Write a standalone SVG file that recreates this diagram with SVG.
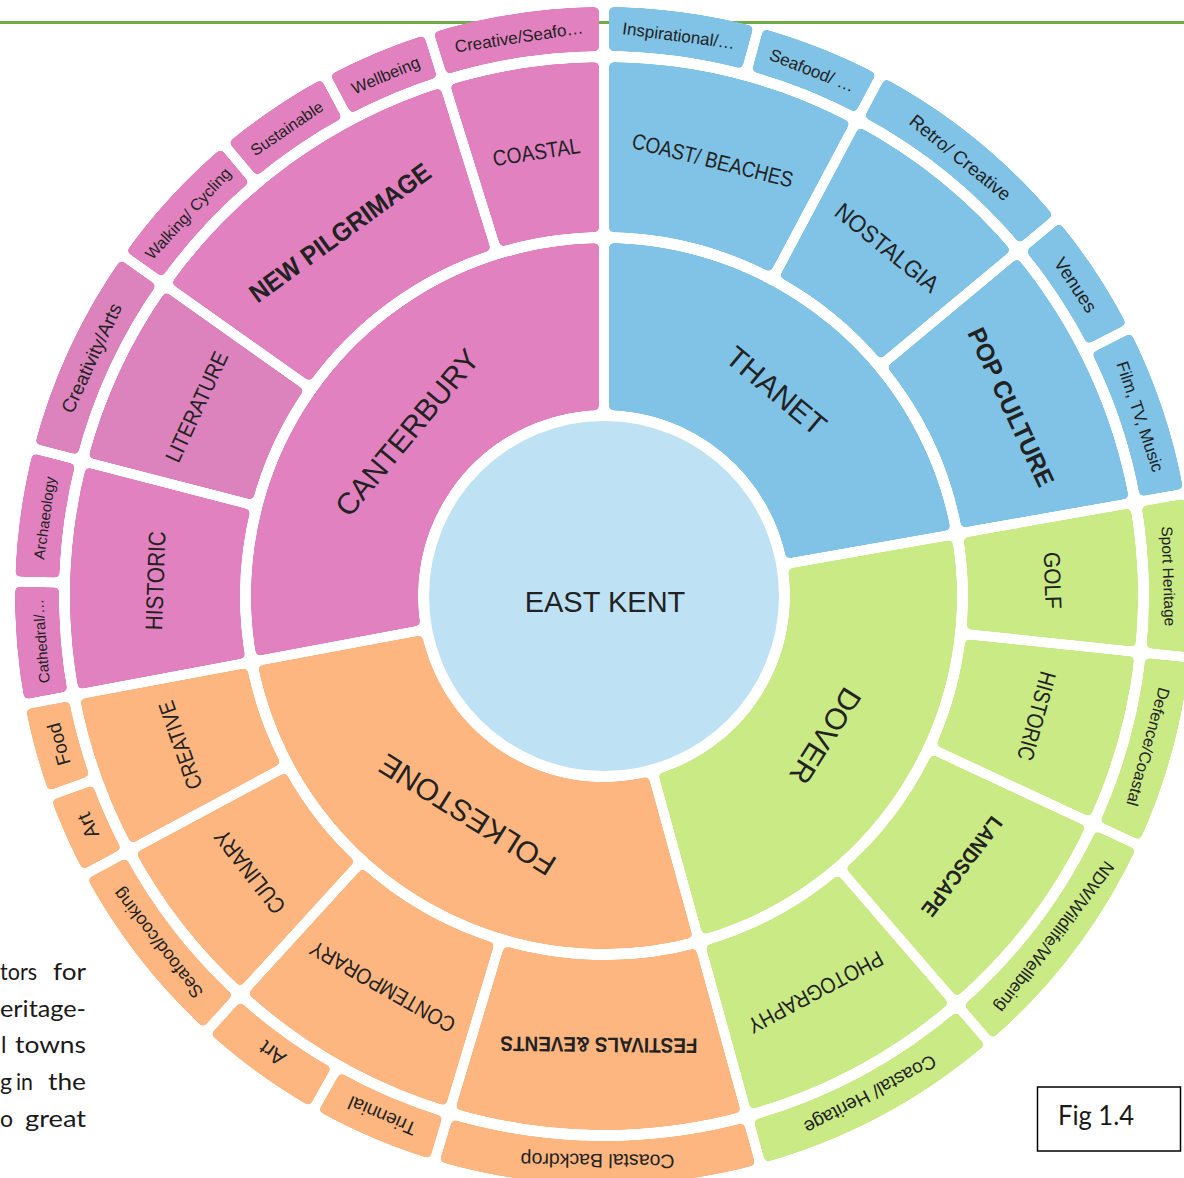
<svg xmlns="http://www.w3.org/2000/svg" width="1184" height="1178" viewBox="0 0 1184 1178">
<style>
.seg{fill:none}
.r1{stroke-width:167}
.r2{stroke-width:170}
.r3{stroke-width:44}
.pk{stroke:#E181BF}
.pl{stroke:#DC82BC}
.bl{stroke:#80C3E6}
.gn{stroke:#C9EA85}
.or{stroke:#FDB680}
.lb{font-family:'Liberation Sans',Arial,sans-serif;fill:#222;text-anchor:middle;dominant-baseline:central}
.l1{font-size:30px}
.l2{font-size:22px}
.l3{font-size:17px}
.b{font-weight:bold}
.doc{font-family:Lato,'Open Sans',sans-serif;font-size:23px;fill:#1a1a1a}
</style>
<defs>
<filter id="rnd" filterUnits="userSpaceOnUse" x="-40" y="-40" width="1264" height="1258" color-interpolation-filters="sRGB">
<feGaussianBlur stdDeviation="2.5"/>
<feComponentTransfer><feFuncA type="linear" slope="12" intercept="-5.5"/></feComponentTransfer>
</filter>
<mask id="gap" maskUnits="userSpaceOnUse" x="-40" y="-40" width="1264" height="1258">
<rect x="-40" y="-40" width="1264" height="1258" fill="#fff"/>
<g stroke="#000" stroke-width="10">
<line x1="604" y1="416" x2="604" y2="-4" transform="rotate(0 604 596)"/>
<line x1="604" y1="416" x2="604" y2="-4" transform="rotate(80 604 596)"/>
<line x1="604" y1="416" x2="604" y2="-4" transform="rotate(164.6 604 596)"/>
<line x1="604" y1="416" x2="604" y2="-4" transform="rotate(259.4 604 596)"/>
<line x1="604" y1="238" x2="604" y2="-4" transform="rotate(28 604 596)"/>
<line x1="604" y1="238" x2="604" y2="-4" transform="rotate(50.2 604 596)"/>
<line x1="604" y1="238" x2="604" y2="-4" transform="rotate(96 604 596)"/>
<line x1="604" y1="238" x2="604" y2="-4" transform="rotate(115 604 596)"/>
<line x1="604" y1="238" x2="604" y2="-4" transform="rotate(139.2 604 596)"/>
<line x1="604" y1="238" x2="604" y2="-4" transform="rotate(196.7 604 596)"/>
<line x1="604" y1="238" x2="604" y2="-4" transform="rotate(222.4 604 596)"/>
<line x1="604" y1="238" x2="604" y2="-4" transform="rotate(241.8 604 596)"/>
<line x1="604" y1="238" x2="604" y2="-4" transform="rotate(284.5 604 596)"/>
<line x1="604" y1="238" x2="604" y2="-4" transform="rotate(305.3 604 596)"/>
<line x1="604" y1="238" x2="604" y2="-4" transform="rotate(342.7 604 596)"/>
<line x1="604" y1="56" x2="604" y2="-4" transform="rotate(15.2 604 596)"/>
<line x1="604" y1="56" x2="604" y2="-4" transform="rotate(63 604 596)"/>
<line x1="604" y1="56" x2="604" y2="-4" transform="rotate(209.5 604 596)"/>
<line x1="604" y1="56" x2="604" y2="-4" transform="rotate(250.2 604 596)"/>
<line x1="604" y1="56" x2="604" y2="-4" transform="rotate(271.4 604 596)"/>
<line x1="604" y1="56" x2="604" y2="-4" transform="rotate(319.9 604 596)"/>
<line x1="604" y1="56" x2="604" y2="-4" transform="rotate(331.8 604 596)"/>
</g>
</mask>
</defs>

<rect width="1184" height="1178" fill="#fff"/>
<line x1="0" y1="22.5" x2="1184" y2="22.5" stroke="#70AD47" stroke-width="3"/>

<g id="document-text" class="doc">
<text x="0" y="980" textLength="37" lengthAdjust="spacingAndGlyphs">tors</text>
<text x="53" y="980" textLength="33" lengthAdjust="spacingAndGlyphs">for</text>
<text x="0" y="1017" textLength="86" lengthAdjust="spacingAndGlyphs">eritage-</text>
<text x="1" y="1053">l</text>
<text x="15" y="1053" textLength="71" lengthAdjust="spacingAndGlyphs">towns</text>
<text x="0" y="1090">g</text>
<text x="16" y="1090" textLength="17" lengthAdjust="spacingAndGlyphs">in</text>
<text x="48" y="1090" textLength="38" lengthAdjust="spacingAndGlyphs">the</text>
<text x="0" y="1127">o</text>
<text x="25" y="1127" textLength="61" lengthAdjust="spacingAndGlyphs">great</text>
</g>

<g id="fig-label">
<rect x="1037.5" y="1087" width="143" height="64" fill="#fff" stroke="#000" stroke-width="1.5"/>
<text x="1058" y="1125" class="doc" style="font-size:26px" textLength="76" lengthAdjust="spacingAndGlyphs">Fig 1.4</text>
</g>

<g id="east-kent">
<circle cx="604" cy="596" r="175" fill="#BEE1F3"/>
<text class="lb" x="605" y="602" style="font-size:29px">EAST KENT</text>
</g>

<!-- Ring 1 -->
<g id="thanet"><g filter="url(#rnd)"><g mask="url(#gap)"><circle class="seg r1 bl" cx="604" cy="596" r="269.5" pathLength="360" stroke-dasharray="80 360" transform="rotate(-90 604 596)"/></g></g><text class="lb l1" transform="translate(604 596) rotate(40) translate(0 -268)">THANET</text></g>
<g id="dover"><g filter="url(#rnd)"><g mask="url(#gap)"><circle class="seg r1 gn" cx="604" cy="596" r="269.5" pathLength="360" stroke-dasharray="84.6 360" transform="rotate(-10 604 596)"/></g></g><text class="lb l1" transform="translate(604 596) rotate(122.3) translate(0 -262)">DOVER</text></g>
<g id="folkestone"><g filter="url(#rnd)"><g mask="url(#gap)"><circle class="seg r1 or" cx="604" cy="596" r="269.5" pathLength="360" stroke-dasharray="94.8 360" transform="rotate(74.6 604 596)"/></g></g><text class="lb l1" transform="translate(604 596) rotate(212) translate(0 -258)">FOLKESTONE</text></g>
<g id="canterbury"><g filter="url(#rnd)"><g mask="url(#gap)"><circle class="seg r1 pk" cx="604" cy="596" r="269.5" pathLength="360" stroke-dasharray="100.6 360" transform="rotate(169.4 604 596)"/></g></g><text class="lb l1" transform="translate(604 596) rotate(309.7) translate(0 -256)">CANTERBURY</text></g>

<!-- Ring 2 -->
<g id="thanet-coast-beaches"><g filter="url(#rnd)"><g mask="url(#gap)"><circle class="seg r2 bl" cx="604" cy="596" r="449" pathLength="360" stroke-dasharray="28 360" transform="rotate(-90 604 596)"/></g></g><text class="lb l2" textLength="165" lengthAdjust="spacingAndGlyphs" transform="translate(604 596) rotate(14) translate(0 -449)">COAST/ BEACHES</text></g>
<g id="thanet-nostalgia"><g filter="url(#rnd)"><g mask="url(#gap)"><circle class="seg r2 bl" cx="604" cy="596" r="449" pathLength="360" stroke-dasharray="22.2 360" transform="rotate(-62 604 596)"/></g></g><text class="lb l2" style="font-size:24px" textLength="126" lengthAdjust="spacingAndGlyphs" transform="translate(604 596) rotate(39.1) translate(0 -449)">NOSTALGIA</text></g>
<g id="thanet-pop-culture"><g filter="url(#rnd)"><g mask="url(#gap)"><circle class="seg r2 bl" cx="604" cy="596" r="449" pathLength="360" stroke-dasharray="29.8 360" transform="rotate(-39.8 604 596)"/></g></g><text class="lb l2 b" style="font-size:25px" textLength="172" lengthAdjust="spacingAndGlyphs" transform="translate(604 596) rotate(65.1) translate(0 -449)">POP CULTURE</text></g>
<g id="dover-golf"><g filter="url(#rnd)"><g mask="url(#gap)"><circle class="seg r2 gn" cx="604" cy="596" r="449" pathLength="360" stroke-dasharray="16 360" transform="rotate(-10 604 596)"/></g></g><text class="lb l2" style="font-size:23px" textLength="57" lengthAdjust="spacingAndGlyphs" transform="translate(604 596) rotate(88) translate(0 -449)">GOLF</text></g>
<g id="dover-historic"><g filter="url(#rnd)"><g mask="url(#gap)"><circle class="seg r2 gn" cx="604" cy="596" r="449" pathLength="360" stroke-dasharray="19 360" transform="rotate(6 604 596)"/></g></g><text class="lb l2" style="font-size:23px" textLength="91" lengthAdjust="spacingAndGlyphs" transform="translate(604 596) rotate(105.5) translate(0 -449)">HISTORIC</text></g>
<g id="dover-landscape"><g filter="url(#rnd)"><g mask="url(#gap)"><circle class="seg r2 gn" cx="604" cy="596" r="449" pathLength="360" stroke-dasharray="24.2 360" transform="rotate(25 604 596)"/></g></g><text class="lb l2 b" style="font-size:21px" textLength="119" lengthAdjust="spacingAndGlyphs" transform="translate(604 596) rotate(127.1) translate(0 -449)">LANDSCAPE</text></g>
<g id="dover-photography"><g filter="url(#rnd)"><g mask="url(#gap)"><circle class="seg r2 gn" cx="604" cy="596" r="449" pathLength="360" stroke-dasharray="25.4 360" transform="rotate(49.2 604 596)"/></g></g><text class="lb l2" textLength="150" lengthAdjust="spacingAndGlyphs" transform="translate(604 596) rotate(151.9) translate(0 -449)">PHOTOGRAPHY</text></g>
<g id="folkestone-festivals"><g filter="url(#rnd)"><g mask="url(#gap)"><circle class="seg r2 or" cx="604" cy="596" r="449" pathLength="360" stroke-dasharray="32.1 360" transform="rotate(74.6 604 596)"/></g></g><text class="lb l2 b" style="font-size:21px" textLength="197" lengthAdjust="spacingAndGlyphs" transform="translate(604 596) rotate(180.65) translate(0 -449)">FESTIVALS &amp;EVENTS</text></g>
<g id="folkestone-contemporary"><g filter="url(#rnd)"><g mask="url(#gap)"><circle class="seg r2 or" cx="604" cy="596" r="449" pathLength="360" stroke-dasharray="25.7 360" transform="rotate(106.7 604 596)"/></g></g><text class="lb l2" textLength="163" lengthAdjust="spacingAndGlyphs" transform="translate(604 596) rotate(209.55) translate(0 -449)">CONTEMPORARY</text></g>
<g id="folkestone-culinary"><g filter="url(#rnd)"><g mask="url(#gap)"><circle class="seg r2 or" cx="604" cy="596" r="449" pathLength="360" stroke-dasharray="19.4 360" transform="rotate(132.4 604 596)"/></g></g><text class="lb l2" style="font-size:23px" textLength="100" lengthAdjust="spacingAndGlyphs" transform="translate(604 596) rotate(232.1) translate(0 -449)">CULINARY</text></g>
<g id="folkestone-creative"><g filter="url(#rnd)"><g mask="url(#gap)"><circle class="seg r2 or" cx="604" cy="596" r="449" pathLength="360" stroke-dasharray="17.6 360" transform="rotate(151.8 604 596)"/></g></g><text class="lb l2" textLength="92" lengthAdjust="spacingAndGlyphs" transform="translate(604 596) rotate(250.6) translate(0 -449)">CREATIVE</text></g>
<g id="canterbury-historic"><g filter="url(#rnd)"><g mask="url(#gap)"><circle class="seg r2 pk" cx="604" cy="596" r="449" pathLength="360" stroke-dasharray="25.1 360" transform="rotate(169.4 604 596)"/></g></g><text class="lb l2" style="font-size:24px" textLength="99" lengthAdjust="spacingAndGlyphs" transform="translate(604 596) rotate(271.95) translate(0 -449)">HISTORIC</text></g>
<g id="canterbury-literature"><g filter="url(#rnd)"><g mask="url(#gap)"><circle class="seg r2 pl" cx="604" cy="596" r="449" pathLength="360" stroke-dasharray="20.8 360" transform="rotate(194.5 604 596)"/></g></g><text class="lb l2" textLength="119" lengthAdjust="spacingAndGlyphs" transform="translate(604 596) rotate(294.9) translate(0 -449)">LITERATURE</text></g>
<g id="canterbury-new-pilgrimage"><g filter="url(#rnd)"><g mask="url(#gap)"><circle class="seg r2 pk" cx="604" cy="596" r="449" pathLength="360" stroke-dasharray="37.4 360" transform="rotate(215.3 604 596)"/></g></g><text class="lb l2 b" style="font-size:26px" textLength="217" lengthAdjust="spacingAndGlyphs" transform="translate(604 596) rotate(324) translate(0 -449)">NEW PILGRIMAGE</text></g>
<g id="canterbury-coastal"><g filter="url(#rnd)"><g mask="url(#gap)"><circle class="seg r2 pk" cx="604" cy="596" r="449" pathLength="360" stroke-dasharray="17.3 360" transform="rotate(252.7 604 596)"/></g></g><text class="lb l2" textLength="88" lengthAdjust="spacingAndGlyphs" transform="translate(604 596) rotate(351.35) translate(0 -449)">COASTAL</text></g>

<!-- Ring 3 -->
<g id="t-inspirational"><g filter="url(#rnd)"><g mask="url(#gap)"><circle class="seg r3 bl" cx="604" cy="596" r="567" pathLength="360" stroke-dasharray="15.2 360" transform="rotate(-90 604 596)"/></g></g><text class="lb l3" transform="translate(604 596) rotate(7.6) translate(0 -565)">Inspirational/…</text></g>
<g id="t-seafood"><g filter="url(#rnd)"><g mask="url(#gap)"><circle class="seg r3 bl" cx="604" cy="596" r="567" pathLength="360" stroke-dasharray="12.8 360" transform="rotate(-74.8 604 596)"/></g></g><text class="lb l3" transform="translate(604 596) rotate(21.6) translate(0 -565)">Seafood/ …</text></g>
<g id="t-retro"><g filter="url(#rnd)"><g mask="url(#gap)"><circle class="seg r3 bl" cx="604" cy="596" r="567" pathLength="360" stroke-dasharray="22.2 360" transform="rotate(-62 604 596)"/></g></g><text class="lb l3" style="font-size:18.5px" transform="translate(604 596) rotate(39.1) translate(0 -565)">Retro/ Creative</text></g>
<g id="t-venues"><g filter="url(#rnd)"><g mask="url(#gap)"><circle class="seg r3 bl" cx="604" cy="596" r="567" pathLength="360" stroke-dasharray="12.8 360" transform="rotate(-39.8 604 596)"/></g></g><text class="lb l3" style="font-size:18.5px" transform="translate(604 596) rotate(56.6) translate(0 -565)">Venues</text></g>
<g id="t-film"><g filter="url(#rnd)"><g mask="url(#gap)"><circle class="seg r3 bl" cx="604" cy="596" r="567" pathLength="360" stroke-dasharray="17 360" transform="rotate(-27 604 596)"/></g></g><text class="lb l3" transform="translate(604 596) rotate(71.5) translate(0 -565)">Film, TV, Music</text></g>
<g id="d-sport"><g filter="url(#rnd)"><g mask="url(#gap)"><circle class="seg r3 gn" cx="604" cy="596" r="567" pathLength="360" stroke-dasharray="16 360" transform="rotate(-10 604 596)"/></g></g><text class="lb l3" style="font-size:15.5px" transform="translate(604 596) rotate(88) translate(0 -565)">Sport Heritage</text></g>
<g id="d-defence"><g filter="url(#rnd)"><g mask="url(#gap)"><circle class="seg r3 gn" cx="604" cy="596" r="567" pathLength="360" stroke-dasharray="19 360" transform="rotate(6 604 596)"/></g></g><text class="lb l3" style="font-size:16.5px" transform="translate(604 596) rotate(105.5) translate(0 -565)">Defence/Coastal</text></g>
<g id="d-ndw"><g filter="url(#rnd)"><g mask="url(#gap)"><circle class="seg r3 gn" cx="604" cy="596" r="567" pathLength="360" stroke-dasharray="24.2 360" transform="rotate(25 604 596)"/></g></g><text class="lb l3" style="font-size:17.5px" transform="translate(604 596) rotate(127.1) translate(0 -565)">NDW/Wildlife/Wellbeing</text></g>
<g id="d-coastal-heritage"><g filter="url(#rnd)"><g mask="url(#gap)"><circle class="seg r3 gn" cx="604" cy="596" r="567" pathLength="360" stroke-dasharray="25.4 360" transform="rotate(49.2 604 596)"/></g></g><text class="lb l3" style="font-size:19px" transform="translate(604 596) rotate(151.9) translate(0 -565)">Coastal/ Heritage</text></g>
<g id="f-coastal-backdrop"><g filter="url(#rnd)"><g mask="url(#gap)"><circle class="seg r3 or" cx="604" cy="596" r="567" pathLength="360" stroke-dasharray="32.1 360" transform="rotate(74.6 604 596)"/></g></g><text class="lb l3" style="font-size:19.5px" transform="translate(604 596) rotate(180.65) translate(0 -565)">Coastal Backdrop</text></g>
<g id="f-triennial"><g filter="url(#rnd)"><g mask="url(#gap)"><circle class="seg r3 or" cx="604" cy="596" r="567" pathLength="360" stroke-dasharray="12.8 360" transform="rotate(106.7 604 596)"/></g></g><text class="lb l3" style="font-size:19px" transform="translate(604 596) rotate(203.1) translate(0 -565)">Triennial</text></g>
<g id="f-art-1"><g filter="url(#rnd)"><g mask="url(#gap)"><circle class="seg r3 or" cx="604" cy="596" r="567" pathLength="360" stroke-dasharray="12.9 360" transform="rotate(119.5 604 596)"/></g></g><text class="lb l3" style="font-size:21px" transform="translate(604 596) rotate(215.95) translate(0 -565)">Art</text></g>
<g id="f-seafood-cooking"><g filter="url(#rnd)"><g mask="url(#gap)"><circle class="seg r3 or" cx="604" cy="596" r="567" pathLength="360" stroke-dasharray="19.4 360" transform="rotate(132.4 604 596)"/></g></g><text class="lb l3" style="font-size:18px" transform="translate(604 596) rotate(232.1) translate(0 -565)">Seafood/cooking</text></g>
<g id="f-art-2"><g filter="url(#rnd)"><g mask="url(#gap)"><circle class="seg r3 or" cx="604" cy="596" r="567" pathLength="360" stroke-dasharray="8.4 360" transform="rotate(151.8 604 596)"/></g></g><text class="lb l3" style="font-size:20px" transform="translate(604 596) rotate(246) translate(0 -565)">Art</text></g>
<g id="f-food"><g filter="url(#rnd)"><g mask="url(#gap)"><circle class="seg r3 or" cx="604" cy="596" r="567" pathLength="360" stroke-dasharray="9.2 360" transform="rotate(160.2 604 596)"/></g></g><text class="lb l3" style="font-size:19px" transform="translate(604 596) rotate(254.8) translate(0 -565)">Food</text></g>
<g id="c-cathedral"><g filter="url(#rnd)"><g mask="url(#gap)"><circle class="seg r3 pk" cx="604" cy="596" r="567" pathLength="360" stroke-dasharray="12 360" transform="rotate(169.4 604 596)"/></g></g><text class="lb l3" style="font-size:15px" transform="translate(604 596) rotate(265.4) translate(0 -565)">Cathedral/…</text></g>
<g id="c-archaeology"><g filter="url(#rnd)"><g mask="url(#gap)"><circle class="seg r3 pk" cx="604" cy="596" r="567" pathLength="360" stroke-dasharray="13.1 360" transform="rotate(181.4 604 596)"/></g></g><text class="lb l3" style="font-size:15px" transform="translate(604 596) rotate(277.95) translate(0 -565)">Archaeology</text></g>
<g id="c-creativity-arts"><g filter="url(#rnd)"><g mask="url(#gap)"><circle class="seg r3 pl" cx="604" cy="596" r="567" pathLength="360" stroke-dasharray="20.8 360" transform="rotate(194.5 604 596)"/></g></g><text class="lb l3" style="font-size:19px" transform="translate(604 596) rotate(294.9) translate(0 -565)">Creativity/Arts</text></g>
<g id="c-walking"><g filter="url(#rnd)"><g mask="url(#gap)"><circle class="seg r3 pk" cx="604" cy="596" r="567" pathLength="360" stroke-dasharray="14.6 360" transform="rotate(215.3 604 596)"/></g></g><text class="lb l3" style="font-size:16px" transform="translate(604 596) rotate(312.6) translate(0 -565)">Walking/ Cycling</text></g>
<g id="c-sustainable"><g filter="url(#rnd)"><g mask="url(#gap)"><circle class="seg r3 pk" cx="604" cy="596" r="567" pathLength="360" stroke-dasharray="11.9 360" transform="rotate(229.9 604 596)"/></g></g><text class="lb l3" style="font-size:16px" transform="translate(604 596) rotate(325.85) translate(0 -565)">Sustainable</text></g>
<g id="c-wellbeing"><g filter="url(#rnd)"><g mask="url(#gap)"><circle class="seg r3 pk" cx="604" cy="596" r="567" pathLength="360" stroke-dasharray="10.9 360" transform="rotate(241.8 604 596)"/></g></g><text class="lb l3" style="font-size:16.5px" transform="translate(604 596) rotate(337.25) translate(0 -565)">Wellbeing</text></g>
<g id="c-creative-seafood"><g filter="url(#rnd)"><g mask="url(#gap)"><circle class="seg r3 pk" cx="604" cy="596" r="567" pathLength="360" stroke-dasharray="17.3 360" transform="rotate(252.7 604 596)"/></g></g><text class="lb l3" transform="translate(604 596) rotate(351.35) translate(0 -565)">Creative/Seafo…</text></g>
</svg>
